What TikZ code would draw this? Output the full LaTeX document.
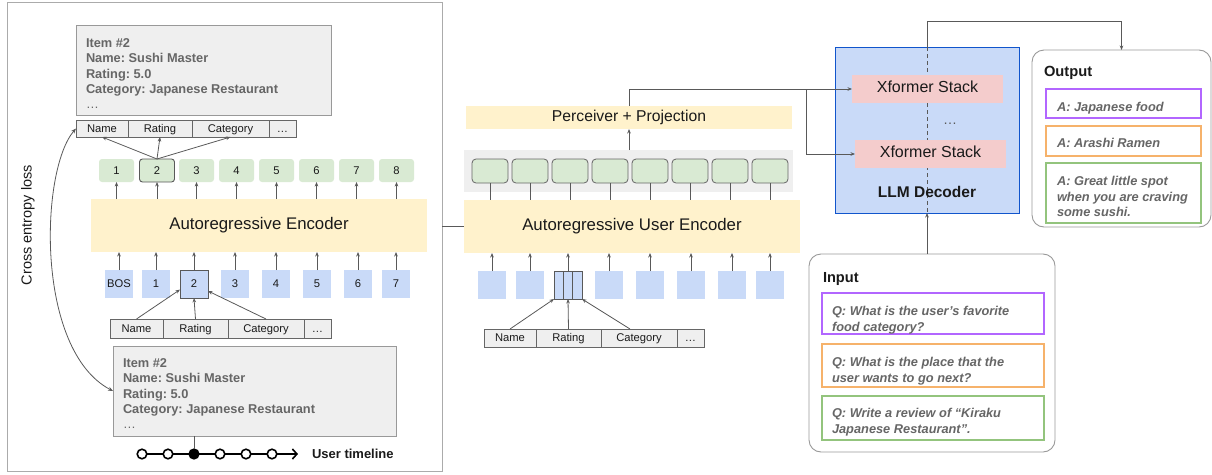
\documentclass[tikz,border=0pt]{standalone}
\usepackage{fontspec}
\setmainfont{Liberation Sans}
\usetikzlibrary{arrows.meta,calc}
\definecolor{yel}{HTML}{FFF2CC}
\definecolor{tokgreen}{HTML}{D9EAD3}
\definecolor{tokblue}{HTML}{C9DAF8}
\definecolor{lgray}{HTML}{EFEFEF}
\definecolor{panelgray}{HTML}{ABABAB}
\definecolor{boxgray}{HTML}{999999}
\definecolor{cellgray}{HTML}{666666}
\definecolor{linegray}{HTML}{595959}
\definecolor{textgray}{HTML}{666666}
\definecolor{pinkx}{HTML}{F4CCCC}
\definecolor{decblue}{HTML}{1155CC}
\definecolor{qpurple}{HTML}{B266FF}
\definecolor{qorange}{HTML}{F6B26B}
\definecolor{qgreen}{HTML}{93C47D}
\definecolor{ink}{HTML}{1A1A1A}
\begin{document}
\frenchspacing
\begin{tikzpicture}[x=1pt,y=-1pt,
  every node/.style={inner sep=0pt, outer sep=0pt, text=ink},
  ctext/.style={text height=0.716em, text depth=0pt, align=center},
  panel/.style={draw=panelgray, line width=0.9pt},
  itembox/.style={draw=boxgray, fill=lgray, line width=0.9pt},
  cell/.style={draw=cellgray, fill=lgray, line width=0.8pt, ctext, font=\fontsize{11.2}{13}\selectfont, minimum height=#1},
  gtok/.style={fill=tokgreen, rounded corners=3pt, ctext, font=\fontsize{11.2}{13}\selectfont, minimum width=35pt, minimum height=23pt},
  btok/.style={fill=tokblue, ctext, font=\fontsize{11.2}{13}\selectfont, minimum width=28pt, minimum height=28pt},
  mgtok/.style={fill=tokgreen, draw=cellgray, line width=0.8pt, rounded corners=4pt, minimum width=36pt, minimum height=24pt},
  yelbox/.style={fill=yel, ctext},
  itemtext/.style={anchor=north west, align=left, text=textgray, font=\fontsize{12.8}{15.4}\selectfont\bfseries},
  qtext/.style={anchor=north west, align=left, text=textgray, font=\fontsize{12.8}{15.6}\selectfont\bfseries\itshape},
  qbox/.style={draw=#1, line width=1.1pt},
  roundbox/.style={draw=boxgray, line width=0.9pt, rounded corners=12pt, fill=white},
  arr/.style={draw=linegray, line width=0.8pt, -{Stealth[length=4.5pt,width=3.6pt]}},
  ln/.style={draw=linegray, line width=0.8pt},
  tcirc/.style={circle, draw=black, line width=1.6pt, fill=white, minimum size=9.6pt},
  tline/.style={draw=black, line width=1.6pt}
]
\useasboundingbox (0,0) rectangle (1212,474);

% ---------------- left panel ----------------
\node[panel, minimum width=435pt, minimum height=469pt] (leftpanel) at (224.5,236.5) {};

\node[itembox, minimum width=255pt, minimum height=90pt] (titem) at (203.5,70) {};
\node[itemtext] (titemtxt) at (86,38.3) {Item \#2\\Name: Sushi Master\\Rating: 5.0\\Category: Japanese Restaurant\\[0pt]\mdseries …};

\node[cell=17pt, minimum width=52pt] (tname) at (102,128.5) {Name};
\node[cell=17pt, minimum width=64pt] (trating) at (160,128.5) {Rating};
\node[cell=17pt, minimum width=77pt] (tcat) at (230.5,128.5) {Category};
\node[cell=17pt, minimum width=27pt] (tdots) at (282.5,128.5) {…};

\node[gtok] (g1) at (116.5,170.5) {1};
\node[gtok, draw=linegray, line width=0.9pt] (g2) at (157,170.5) {2};
\node[gtok] (g3) at (196.5,170.5) {3};
\node[gtok] (g4) at (236.5,170.5) {4};
\node[gtok] (g5) at (276.5,170.5) {5};
\node[gtok] (g6) at (316.5,170.5) {6};
\node[gtok] (g7) at (356.5,170.5) {7};
\node[gtok] (g8) at (396.5,170.5) {8};

\draw[arr] (g2.north) -- (tname.south);
\draw[arr] (g2.north) -- (trating.south);
\draw[arr] (g2.north) -- (tcat.south);

\node[yelbox, minimum width=336pt, minimum height=53pt, font=\fontsize{16.8}{19}\selectfont] (enc) at (259,225.5) {Autoregressive Encoder};

\foreach \i in {1,...,8} { \draw[arr] (g\i.south |- enc.north) -- (g\i.south); }

\node[btok] (b1) at (119,284) {BOS};
\node[btok] (b2) at (156,284) {1};
\node[btok, draw=linegray, line width=0.9pt] (b3) at (194,284) {2};
\node[btok] (b4) at (235,284) {3};
\node[btok] (b5) at (276,284) {4};
\node[btok] (b6) at (317,284) {5};
\node[btok] (b7) at (358,284) {6};
\node[btok] (b8) at (396,284) {7};

\foreach \i in {1,...,8} { \draw[arr] (b\i.north) -- (b\i.north |- enc.south); }

\node[cell=19pt, minimum width=53pt] (bname) at (136.5,328.5) {Name};
\node[cell=19pt, minimum width=65pt] (brating) at (195.5,328.5) {Rating};
\node[cell=19pt, minimum width=76pt] (bcat) at (266,328.5) {Category};
\node[cell=19pt, minimum width=27pt] (bdots) at (317.5,328.5) {…};

\draw[arr] (bname.north) -- ($(b3.south west)!0.3!(b3.north west)$);
\draw[arr] (brating.north) -- (b3.south);
\draw[arr] (bcat.north) -- ($(b3.south east)!0.25!(b3.north east)$);

\node[itembox, minimum width=283pt, minimum height=90pt] (bitem) at (254.5,391) {};
\node[itemtext] (bitemtxt) at (123,358.3) {Item \#2\\Name: Sushi Master\\Rating: 5.0\\Category: Japanese Restaurant\\[0pt]\mdseries …};

% timeline
\node[tcirc] (t1) at (142,454) {};
\node[tcirc] (t2) at (168,454) {};
\node[tcirc, fill=black] (t3) at (194,454) {};
\node[tcirc] (t4) at (220,454) {};
\node[tcirc] (t5) at (246,454) {};
\node[tcirc] (t6) at (272,454) {};
\coordinate (tend) at (298,454);
\draw[tline] (t1.east) -- (t2.west);
\draw[tline] (t2.east) -- (t3.west);
\draw[tline] (t3.east) -- (t4.west);
\draw[tline] (t4.east) -- (t5.west);
\draw[tline] (t5.east) -- (t6.west);
\draw[tline, -{Straight Barb[length=4.5pt,width=10pt]}] (t6.east) -- (tend);
\draw[ln] (t3 |- bitem.south) -- (t3.north);
\node[anchor=base west, font=\fontsize{13}{15}\selectfont\bfseries] (tllabel) at (312,458.6) {User timeline};

% cross entropy loss
\node[rotate=90, font=\fontsize{14.5}{16}\selectfont, ctext] (celabel) at (28,225) {Cross entropy loss};
\draw[draw=linegray, line width=0.8pt, {Stealth[length=5pt,width=4pt]}-{Stealth[length=5pt,width=4pt]}] (bitem.west) .. controls (35,350) and (40,170) .. (tname.west);

% ---------------- middle ----------------
\node[yelbox, minimum width=336pt, minimum height=53pt, font=\fontsize{16.8}{19}\selectfont] (ue) at (632,226.5) {Autoregressive User Encoder};
\draw[ln] (ue.west) -- (ue.west -| leftpanel.east);

\node[fill=lgray, minimum width=329pt, minimum height=42pt] (gbg) at (628.5,171) {};
\foreach \i/\x in {1/490,2/530,3/570,4/610,5/650,6/690,7/730,8/770} {
  \node[mgtok] (mg\i) at (\x,171) {};
  \draw[ln] (mg\i.south) -- (mg\i.south |- ue.north);
}

\node[yelbox, minimum width=326pt, minimum height=23pt, font=\fontsize{15.7}{18}\selectfont] (perc) at (629,117.5) {Perceiver + Projection};
\draw[arr] (gbg.north -| perc.south) -- (perc.south);

\foreach \i/\x in {1/492,2/530,3/568,4/609,5/650,6/691,7/732,8/770} {
  \node[btok] (m\i) at (\x,285) {};
  \draw[arr] (m\i.north) -- (m\i.north |- ue.south);
}
\draw[draw=linegray, line width=0.9pt] (m3.north west) rectangle (m3.south east);
\draw[draw=linegray, line width=0.8pt] ($(m3.north west)!1/3!(m3.north east)$) -- ($(m3.south west)!1/3!(m3.south east)$);
\draw[draw=linegray, line width=0.8pt] ($(m3.north west)!2/3!(m3.north east)$) -- ($(m3.south west)!2/3!(m3.south east)$);

\node[cell=18pt, minimum width=52pt] (mname) at (510,338) {Name};
\node[cell=18pt, minimum width=65pt] (mrating) at (568.5,338) {Rating};
\node[cell=18pt, minimum width=76pt] (mcat) at (639,338) {Category};
\node[cell=18pt, minimum width=27pt] (mdots) at (690.5,338) {…};

\draw[arr] (mname.north) -- (m3.south west);
\draw[arr] (mrating.north) -- (m3.south);
\draw[arr] ($(mcat.north)+(-9,0)$) -- (m3.south east);

% ---------------- right ----------------
\node[fill=tokblue, draw=decblue, line width=0.9pt, minimum width=184pt, minimum height=166pt] (dec) at (927,130) {};
\draw[draw=linegray, line width=0.8pt, dash pattern=on 4pt off 3pt] (dec.north) -- (dec.south);
\node[fill=pinkx, ctext, minimum width=151pt, minimum height=28pt, font=\fontsize{16}{18}\selectfont] (x1) at (927.5,89) {Xformer Stack};
\node[fill=pinkx, ctext, minimum width=151pt, minimum height=28pt, font=\fontsize{16}{18}\selectfont] (x2) at (930.5,154) {Xformer Stack};
\node[ctext, text=linegray, font=\fontsize{14}{16}\selectfont] (xdots) at (950,121) {…};
\node[ctext, font=\fontsize{15.5}{18}\selectfont\bfseries] (declabel) at (927,194) {LLM Decoder};

\draw[arr] (perc.north) |- (x1.west);
\coordinate (br) at (806,89);
\draw[arr] (br) |- (x2.west);

% output
\node[roundbox, minimum width=179pt, minimum height=177pt] (outbox) at (1121.5,138.5) {};
\coordinate (topy) at (0,21);
\draw[arr] (dec.north) -- (dec.north |- topy) -| (outbox.north);
\node[anchor=base west, font=\fontsize{14.7}{17}\selectfont\bfseries] (outlabel) at (1044,76.3) {Output};
\node[qbox=qpurple, minimum width=155pt, minimum height=29pt] (a1) at (1123.5,103.5) {};
\node[qbox=qorange, minimum width=155pt, minimum height=30pt] (a2) at (1123.5,141) {};
\node[qbox=qgreen, minimum width=155pt, minimum height=60pt] (a3) at (1123.5,193) {};
\node[qtext] (a1t) at (1057,102.3) {A: Japanese food};
\node[qtext] (a2t) at (1057,138.3) {A: Arashi Ramen};
\node[qtext] (a3t) at (1057,176.3) {A: Great little spot\\when you are craving\\some sushi.};

% input
\node[roundbox, minimum width=246pt, minimum height=198pt] (inbox) at (932,353) {};
\draw[arr] (inbox.north -| dec.south) -- (dec.south);
\node[anchor=base west, font=\fontsize{14.6}{17}\selectfont\bfseries] (inlabel) at (823,282.2) {Input};
\node[qbox=qpurple, minimum width=222pt, minimum height=41pt] (q1) at (933,313.5) {};
\node[qbox=qorange, minimum width=222pt, minimum height=43pt] (q2) at (933,365.5) {};
\node[qbox=qgreen, minimum width=222pt, minimum height=44pt] (q3) at (933,418) {};
\node[qtext] (q1t) at (832,306.3) {Q: What is the user’s favorite\\food category?};
\node[qtext] (q2t) at (832,357.3) {Q: What is the place that the\\user wants to go next?};
\node[qtext] (q3t) at (832,408.3) {Q: Write a review of “Kiraku\\Japanese Restaurant”.};
\end{tikzpicture}
\end{document}
